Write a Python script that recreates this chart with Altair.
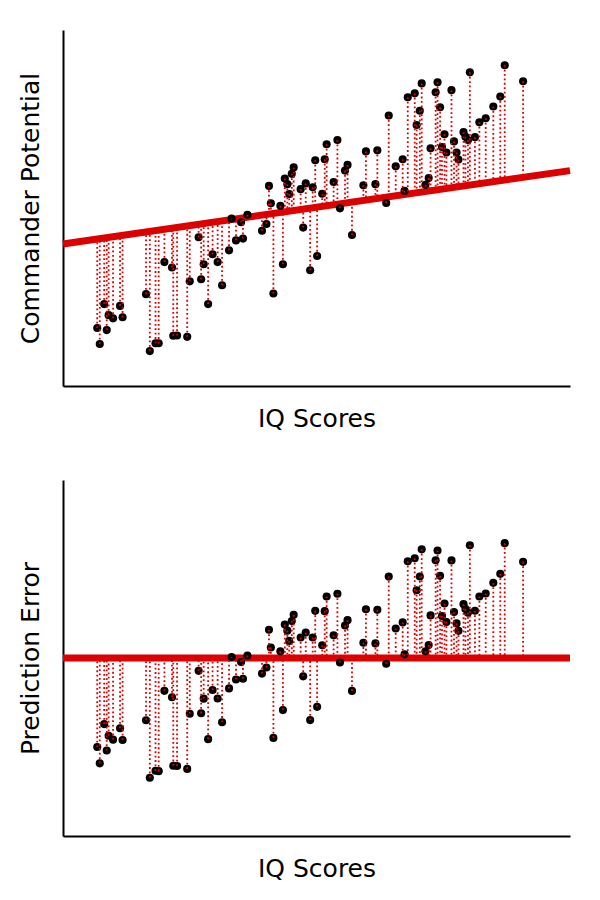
import numpy as np
import pandas as pd
import altair as alt

# IQ score and commander potential of each officer
iq = [75.4, 75.8, 76.5, 76.9, 77.2, 77.9, 79.0, 79.4,
      83.1, 83.7, 84.6, 85.1, 86.0, 87.2, 87.4, 88.0, 89.6, 90.0, 91.4,
      91.8, 92.2, 92.9, 93.6, 94.4, 95.1, 96.2, 96.6, 97.3, 98.1, 98.4, 99.1, 101.4, 102.1,
      102.5, 102.8, 103.2, 104.3, 104.7, 105.0, 105.4, 105.7, 106.1, 106.4, 107.5, 107.9,
      108.3, 109.0, 109.4, 109.8, 110.1, 110.9, 111.3, 111.6, 112.7, 113.3, 113.7, 114.5, 114.9, 115.6,
      117.4, 117.8, 119.3, 119.6, 121.0, 121.4, 122.5, 123.6, 123.9, 124.4,
      125.5, 125.8, 126.3, 126.6, 127.2, 127.7, 128.0, 128.8, 129.1, 129.5, 129.8, 130.2,
      130.5, 131.3, 131.7, 132.1, 132.4, 133.2, 133.5, 133.9, 134.2, 135.0,
      135.7, 136.7, 137.9, 139.0, 139.7, 142.6]
potential = [16.3, 11.8, 23.0, 15.7, 19.9, 19.0, 22.5, 19.3,
             25.8, 9.8, 12.0, 12.0, 34.8, 33.3, 14.1, 14.2, 13.8, 29.4, 41.8,
             30.0, 34.2, 23.0, 37.0, 34.8, 28.3, 38.1, 47.0, 40.9, 46.0, 41.4, 48.1, 43.6, 45.5,
             56.2, 51.3, 26.0, 50.6, 34.2, 58.3, 56.7, 53.9, 59.6, 61.4, 55.3, 44.5,
             56.9, 32.5, 55.8, 63.4, 36.5, 54.0, 63.7, 67.9, 57.3, 69.1, 49.9, 60.5, 62.1, 42.4,
             56.4, 65.9, 56.7, 66.2, 51.4, 76.0, 61.7, 63.7, 54.8, 81.1,
             82.2, 73.3, 77.3, 85.0, 56.5, 58.4, 66.8, 82.5, 85.3, 78.3, 67.1, 70.7,
             65.6, 83.1, 68.7, 65.6, 63.6, 71.3, 70.0, 69.1, 88.1, 69.9,
             74.1, 75.2, 78.5, 81.3, 90.1, 85.6]

# the fitted line, read at both ends of the IQ range
line_iq = [70, 150]
line_fit = [39.9, 60.5]

RED = "#dc0000"

df = pd.DataFrame({"IQ": iq, "Potential": potential})
df["Predicted"] = np.interp(df["IQ"], line_iq, line_fit)
df["Error"] = df["Potential"] - df["Predicted"]
df["Zero"] = 0.0

line_df = pd.DataFrame({"IQ": line_iq, "Fit": line_fit, "Zero": [0.0, 0.0]})

x_scale = alt.Scale(domain=[70, 150], nice=False, zero=False)


def panel(y_field, y2_field, line_field, y_domain, y_title):
    y_scale = alt.Scale(domain=y_domain, nice=False, zero=False)
    fit = alt.Chart(line_df).mark_line(color=RED, strokeWidth=7, strokeCap="butt").encode(
        alt.X("IQ:Q", scale=x_scale).title("IQ Scores"),
        alt.Y(line_field + ":Q", scale=y_scale).title(y_title))
    dots = alt.Chart(df).mark_circle(color="black", opacity=1, size=66).encode(
        alt.X("IQ:Q", scale=x_scale),
        alt.Y(y_field + ":Q", scale=y_scale))
    drops = alt.Chart(df).mark_rule(color=RED, strokeWidth=1.8, strokeDash=[1.8, 2.6]).encode(
        alt.X("IQ:Q", scale=x_scale),
        alt.Y(y_field + ":Q", scale=y_scale),
        alt.Y2(y2_field + ":Q"))
    return (fit + dots + drops).properties(width=507, height=356)


top = panel("Potential", "Predicted", "Fit", [0, 100], "Commander Potential")
bottom = panel("Error", "Zero", "Zero", [-50, 50], "Prediction Error")

chart = (alt.vconcat(top, bottom, spacing=49)
         .properties(padding={"left": 10, "top": 22, "right": 5, "bottom": 5})
         .configure_axis(domainColor="black", domainWidth=2, ticks=False, labels=False, grid=False,
                         titleFont="DejaVu Sans", titleFontSize=25, titleFontWeight="normal",
                         titleColor="black", titlePadding=20)
         .configure_view(strokeWidth=0))

chart.save("out.html", embed_options={"renderer": "svg", "actions": False})
